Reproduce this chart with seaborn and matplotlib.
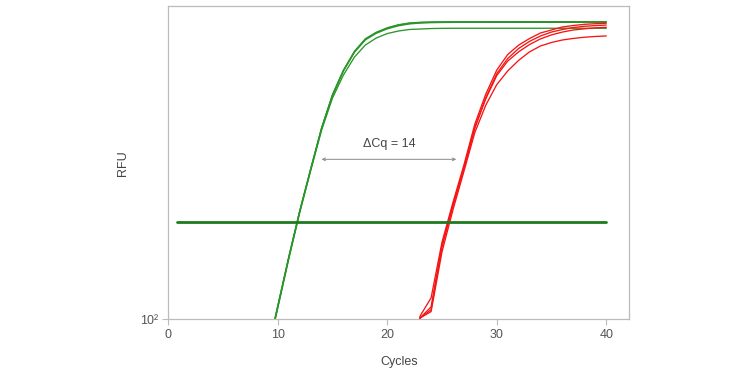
import numpy as np
import pandas as pd
import matplotlib
matplotlib.use("Agg")
import matplotlib.pyplot as plt
import seaborn as sns

# ---------------- data ----------------
green_cycles = list(range(9, 41))
green_a = [60, 122, 250, 491, 910, 1667, 2727, 3903, 5140, 6180, 6800, 7260, 7590, 7790, 7870,
           7910, 7920, 7920, 7930, 7930, 7930, 7935, 7935, 7940, 7940, 7940, 7940, 7945, 7945, 7945, 7945, 7945]
green_b = [58, 120, 246, 486, 902, 1650, 2700, 3870, 5100, 6130, 6760, 7220, 7550, 7750, 7840,
           7880, 7890, 7900, 7900, 7900, 7905, 7905, 7910, 7910, 7910, 7910, 7910, 7910, 7910, 7910, 7910, 7910]
green_c = [59, 121, 248, 488, 906, 1658, 2690, 3850, 5060, 6080, 6700, 7150, 7470, 7680, 7780,
           7830, 7850, 7860, 7870, 7870, 7870, 7870, 7870, 7870, 7870, 7870, 7870, 7870, 7870, 7870, 7870, 7870]
green_d = [57, 118, 242, 478, 885, 1610, 2590, 3630, 4720, 5640, 6250, 6670, 6920, 7080, 7130,
           7180, 7200, 7210, 7210, 7210, 7210, 7210, 7210, 7210, 7210, 7210, 7210, 7210, 7210, 7210, 7210, 7210]

red_cycles = list(range(22, 41))
red_a = [45, 105, 137, 311, 557, 966, 1766, 2742, 3900, 4900, 5630, 6205, 6730, 7030, 7350, 7510, 7640, 7710, 7760]
red_b = [45, 102, 115, 290, 528, 918, 1665, 2600, 3700, 4620, 5360, 5950, 6440, 6820, 7080, 7290, 7420, 7500, 7560]
red_c = [45, 102, 120, 298, 543, 930, 1680, 2560, 3600, 4450, 5100, 5680, 6170, 6540, 6820, 7030, 7150, 7260, 7310]
red_d = [45, 102, 112, 270, 500, 880, 1560, 2330, 3150, 3850, 4500, 5100, 5560, 5850, 6070, 6210, 6320, 6390, 6440]

threshold_cycles = [0.8, 40]
threshold_rfu = [420, 420]

dcq_start, dcq_end, dcq_y = 14.0, 26.3, 1050
dcq_label = "ΔCq = 14"

xticks = [0, 10, 20, 30, 40]
ytick_vals = [100]
ytick_labels = ["10²"]

# ---------------- build table ----------------
rows = []
for name, vals in [("G1", green_a), ("G2", green_b), ("G3", green_c), ("G4", green_d)]:
    for c, v in zip(green_cycles, vals):
        rows.append({"Cycles": c, "RFU": v, "well": name, "group": "green"})
for name, vals in [("R1", red_a), ("R2", red_b), ("R3", red_c), ("R4", red_d)]:
    for c, v in zip(red_cycles, vals):
        rows.append({"Cycles": c, "RFU": v, "well": name, "group": "red"})
df = pd.DataFrame(rows)

sns.set_theme(style="white")
plt.rcParams["font.family"] = ["Liberation Sans", "DejaVu Sans"]

fig = plt.figure(figsize=(7.5, 3.71), dpi=100)
ax = fig.add_axes([0.2244, 0.1394, 0.839 - 0.2244, 0.9838 - 0.1394])

sns.lineplot(data=df, x="Cycles", y="RFU", hue="group", units="well", estimator=None,
             palette={"green": "#2a952a", "red": "#f51515"}, linewidth=0.95,
             legend=False, ax=ax)

thr = pd.DataFrame({"Cycles": threshold_cycles, "RFU": threshold_rfu})
sns.lineplot(data=thr, x="Cycles", y="RFU", color="#1e7a1e", linewidth=2.0, ax=ax)

ax.set_yscale("log")
ax.set_ylim(100, 10000)
ax.set_xlim(0, 42.1)
ax.set_xticks(xticks)
ax.set_yticks(ytick_vals, labels=ytick_labels)
ax.yaxis.set_minor_locator(matplotlib.ticker.NullLocator())

ax.annotate("", xy=(dcq_start, dcq_y), xytext=(dcq_end, dcq_y),
            arrowprops=dict(arrowstyle="<->", color="#8a8a8a", lw=0.7,
                            mutation_scale=5, shrinkA=0, shrinkB=0))
ax.text((dcq_start + dcq_end) / 2, dcq_y * 1.14, dcq_label, ha="center", va="bottom",
        fontsize=9, color="#444444")

for s in ax.spines.values():
    s.set_color("#bbbbbb")
    s.set_linewidth(0.9)
ax.tick_params(axis="both", which="major", direction="out", length=4, width=0.8,
               color="#bbbbbb", labelsize=9, labelcolor="#555555", pad=3,
               bottom=True, left=True)
ax.set_xlabel("Cycles", fontsize=9, color="#444444", labelpad=11)
ax.set_ylabel("RFU", fontsize=9, color="#444444", labelpad=8)

fig.savefig("out.png", dpi=100)
